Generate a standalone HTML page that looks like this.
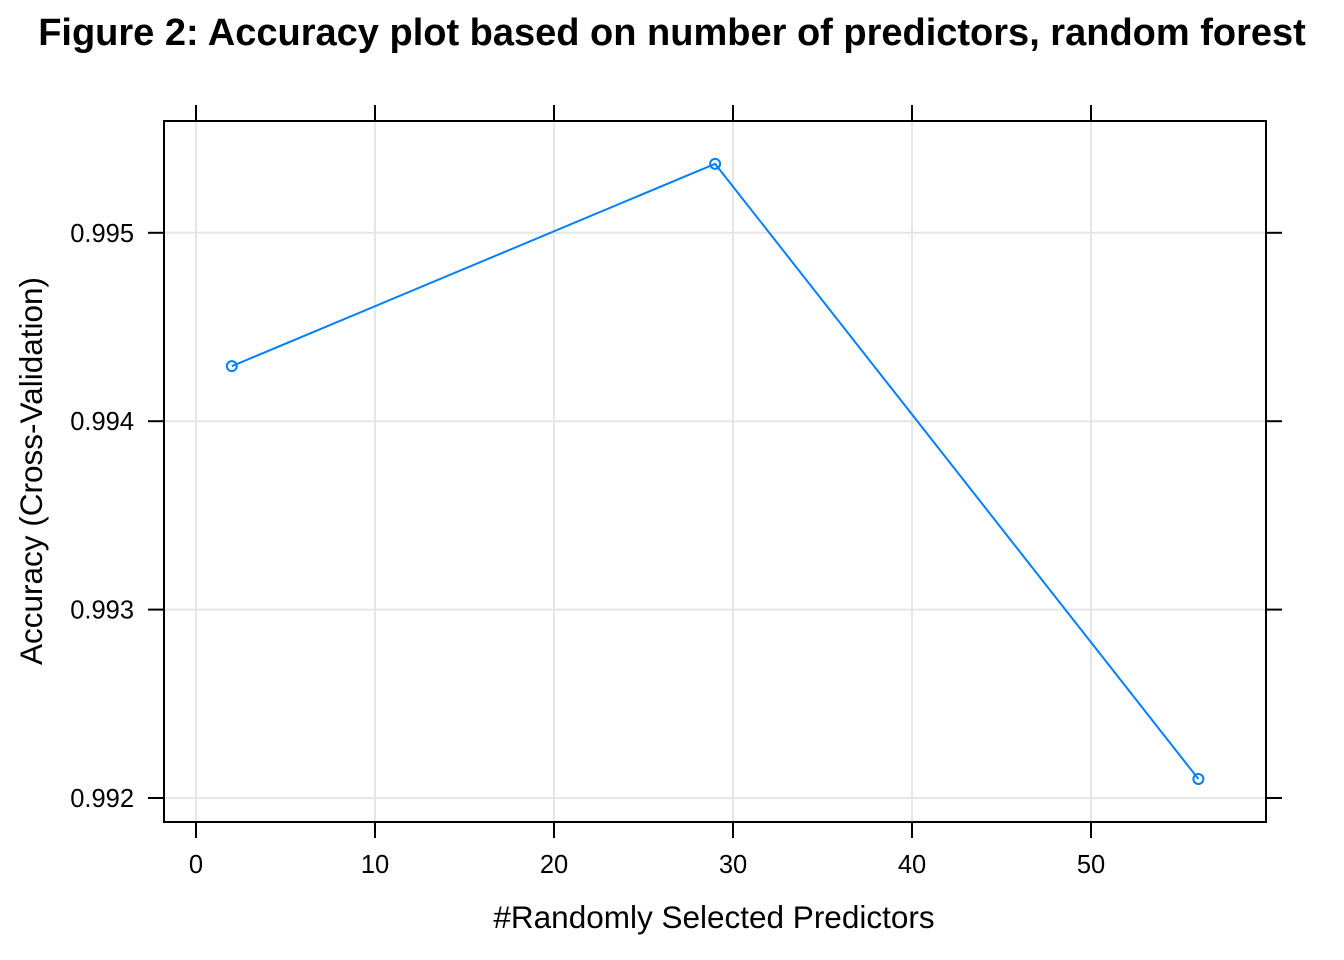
<!DOCTYPE html>
<html><head><meta charset="utf-8"><style>
html,body{margin:0;padding:0;background:#fff;}
svg{display:block;font-family:"Liberation Sans",Arial,sans-serif;}
</style></head><body>
<svg id="chart" width="1344" height="960">
<text x="672" y="45" text-anchor="middle" font-size="38" font-weight="bold">Figure 2: Accuracy plot based on number of predictors, random forest</text>
<g id="grid"></g>
<g id="axes"></g>
<g id="marks"></g>
<text x="714" y="928" text-anchor="middle" font-size="31.5">#Randomly Selected Predictors</text>
<text transform="translate(42,471) rotate(-90)" text-anchor="middle" font-size="31.5">Accuracy (Cross-Validation)</text>
</svg>
<script>
const predictors = [2, 29, 56];
const accuracy = [0.994292, 0.995366, 0.992101];
const xTicks = [0, 10, 20, 30, 40, 50];
const yTicks = [0.992, 0.993, 0.994, 0.995];
const yTickLabels = ["0.992", "0.993", "0.994", "0.995"];

const L=164,R=1266,T=121,B=822;
const xs=v=>196+v*17.9;
const ys=v=>798-(v-0.992)*188400;
const NS="http://www.w3.org/2000/svg";
function mk(tag,attrs,parent){const e=document.createElementNS(NS,tag);for(const k in attrs)e.setAttribute(k,attrs[k]);parent.appendChild(e);return e;}
const grid=document.getElementById('grid'),axes=document.getElementById('axes'),marks=document.getElementById('marks');
xTicks.forEach(v=>{
  const g=mk('line',{x1:xs(v),x2:xs(v),y1:T,y2:B,stroke:'#e6e6e6','stroke-width':2},grid);
  
  
  [[T-16,T],[B,B+16]].forEach(p=>{const t=mk('line',{x1:xs(v),x2:xs(v),y1:p[0],y2:p[1],stroke:'#000','stroke-width':2},axes);
    
    });
  const lb=mk('text',{x:xs(v),y:873,'text-anchor':'middle','font-size':25.5},axes);lb.textContent=v;
  
  
});
yTicks.forEach((v,i)=>{
  const g=mk('line',{x1:L,x2:R,y1:ys(v),y2:ys(v),stroke:'#e6e6e6','stroke-width':2},grid);
  
  
  [[L-16,L],[R,R+16]].forEach(p=>{const t=mk('line',{x1:p[0],x2:p[1],y1:ys(v),y2:ys(v),stroke:'#000','stroke-width':2},axes);
    
    });
  const lb=mk('text',{x:134,y:ys(v)+9,'text-anchor':'end','font-size':25.5},axes);lb.textContent=yTickLabels[i];
  
  
});
const box=mk('rect',{x:L,y:T,width:R-L,height:B-T,fill:'none',stroke:'#000','stroke-width':2},axes);


const pl=mk('polyline',{points:predictors.map((p,i)=>xs(p)+','+ys(accuracy[i])).join(' '),fill:'none',stroke:'#0080ff','stroke-width':2},marks);


predictors.forEach((p,i)=>{const c=mk('circle',{cx:xs(p),cy:ys(accuracy[i]),r:5,fill:'none',stroke:'#0080ff','stroke-width':2},marks);
  
  });
</script>
</body></html>
